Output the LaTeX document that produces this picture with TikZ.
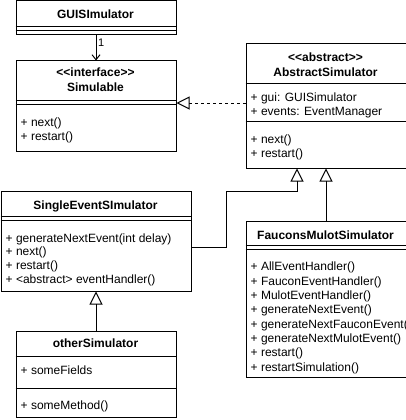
\documentclass[tikz,border=0pt]{standalone}
\usepackage{fontspec}
\setmainfont{Liberation Sans}
\usetikzlibrary{arrows.meta, calc}

\begin{document}
\begin{tikzpicture}[
    x=1pt, y=-1pt,
    classbox/.style={rectangle, draw=black, line width=1pt, fill=white, anchor=north west, inner sep=0pt},
    title/.style={font=\fontsize{12pt}{14pt}\selectfont\bfseries, inner sep=0pt, anchor=base},
    member/.style={font=\fontsize{12pt}{14pt}\selectfont, inner sep=0pt, anchor=base west},
    sep/.style={line width=1pt},
    inherit/.style={line width=1pt, -{Triangle[open, length=13pt, width=13pt]}},
    realize/.style={inherit, dash pattern=on 3pt off 3pt},
    assoc/.style={line width=1pt, -{Straight Barb[length=5pt, width=8pt]}}
]
\useasboundingbox (0,0) rectangle (406,420);

% Class boxes
\node[classbox, minimum width=160pt, minimum height=34pt] (gui) at (15.5,0.5) {};
\node[classbox, minimum width=160pt, minimum height=90pt] (simulable) at (15.5,60.5) {};
\node[classbox, minimum width=160pt, minimum height=124pt] (abstract) at (245.5,43.5) {};
\node[classbox, minimum width=190pt, minimum height=100pt] (single) at (0.5,190.5) {};
\node[classbox, minimum width=160pt, minimum height=156pt] (faucons) at (245.5,220.5) {};
\node[classbox, minimum width=160pt, minimum height=86pt] (other) at (15.5,330.5) {};

% Compartment lines
\foreach \cls/\off in {gui/26, gui/30, simulable/40, simulable/44, abstract/40, abstract/78,
                       single/26, single/30, faucons/25, faucons/29, other/26, other/58}
  \draw[sep] ([yshift=-\off pt]\cls.north west) -- ([yshift=-\off pt]\cls.north east);

% Titles
\node[title] (gui-t) at (95.5,18.5) {GUISImulator};
\node[title] (simulable-s) at (95.5,77) {<\kern0pt<interface>\kern0pt>};
\node[title] (simulable-t) at (95.5,92) {Simulable};
\node[title] (abstract-s) at (325.5,61) {<\kern0pt<abstract>\kern0pt>};
\node[title] (abstract-t) at (325.5,76) {AbstractSimulator};
\node[title] (single-t) at (95.5,209) {SingleEventSImulator};
\node[title] (faucons-t) at (325.5,239) {FauconsMulotSimulator};
\node[title] (other-t) at (95.5,347) {otherSimulator};

% Members
\node[member] (simulable-m1) at (20.5,126.5) {+ next()};
\node[member] (simulable-m2) at (20.5,140.5) {+ restart()};
\node[member] (abstract-a1) at (250.5,101) {+ gui: GUISimulator};
\node[member] (abstract-a2) at (250.5,115) {+ events: EventManager};
\node[member] (abstract-m1) at (250.5,143) {+ next()};
\node[member] (abstract-m2) at (250.5,157) {+ restart()};
\foreach \m [count=\i] in {{+ generateNextEvent(int delay)}, {+ next()}, {+ restart()}, {+ <abstract> eventHandler()}}
  \node[member] (single-m\i) at (5.5,{228.3+13.7*\i}) {\m};
\begin{scope}
  \clip ([xshift=-1.5pt]faucons.north west) rectangle ([xshift=-1.5pt]faucons.south east);
  \foreach \m [count=\i] in {{+ AllEventHandler()}, {+ FauconEventHandler()}, {+ MulotEventHandler()},
                             {+ generateNextEvent()}, {+ generateNextFauconEvent()},
                             {+ generateNextMulotEvent()}, {+ restart()}, {+ restartSimulation()}}
    \node[member] (faucons-m\i) at (250.5,{256.3+14.37*\i}) {\m};
\end{scope}
\node[member] (other-a1) at (20.5,374) {+ someFields};
\node[member] (other-m1) at (20.5,409) {+ someMethod()};

% Connectors
\draw[assoc] (gui.south) -- (simulable.north)
  node[pos=0.3, right, inner sep=1.5pt, font=\fontsize{11pt}{13pt}\selectfont] (gui-mult) {1};
\draw[realize] ([yshift=3pt]abstract.west) -- ([yshift=3pt]simulable.east);
\draw[inherit] ([yshift=-6pt]single.east) -- ++(35,0)
  |- ([xshift=-29pt,yshift=-23pt]abstract.south) -- ([xshift=-29pt]abstract.south);
\draw[inherit] (faucons.north) -- (abstract.south);
\draw[inherit] (other.north) -- (other.north |- single.south);

\end{tikzpicture}
\end{document}
